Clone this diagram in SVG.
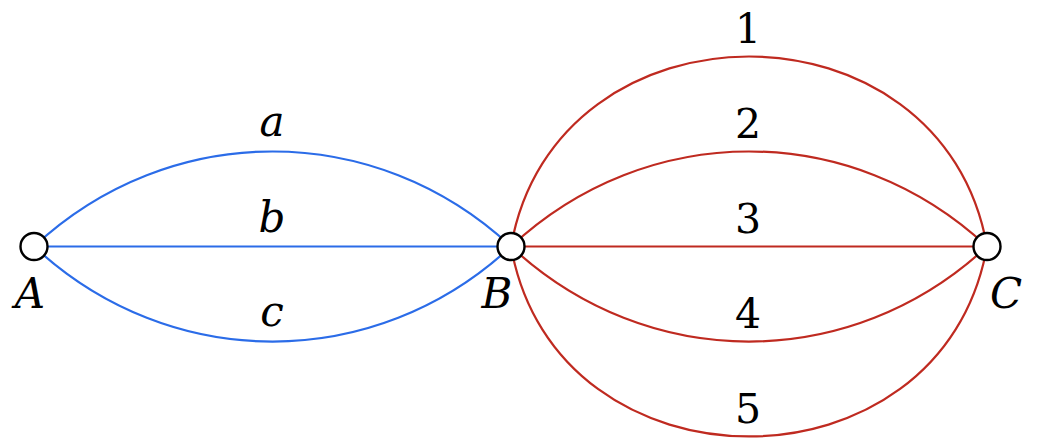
<svg xmlns="http://www.w3.org/2000/svg" width="1054" height="446" viewBox="0 0 1054 446">
<style>
.e{fill:none;stroke-width:2.2}
.blue{stroke:#2B6CE8}
.red{stroke:#BF2A20}
.node{fill:#fff;stroke:#000;stroke-width:2.4}
text{font-family:'DejaVu Serif','Liberation Serif',serif;fill:#000;text-anchor:middle}
.lbl{font-style:italic;font-size:42px}
.num{font-size:41px}
</style>
<rect width="1054" height="446" fill="#fff"/>
<g id="connectors">
<path class="e blue" d="M34,246.5 C169.9,119.8 375.1,119.8 511,246.5"/>
<path class="e blue" d="M34,246.5 L511,246.5"/>
<path class="e blue" d="M34,246.5 C169.9,373.2 375.1,373.2 511,246.5"/>
<path class="e red" d="M511,246.5 C555.7,-6.8 942.3,-6.8 987,246.5"/>
<path class="e red" d="M511,246.5 C646.9,119.8 851.1,119.8 987,246.5"/>
<path class="e red" d="M511,246.5 L987,246.5"/>
<path class="e red" d="M511,246.5 C646.9,373.2 851.1,373.2 987,246.5"/>
<path class="e red" d="M511,246.5 C555.7,499.8 942.3,499.8 987,246.5"/>
<text class="lbl" x="272" y="136">a</text>
<text class="lbl" x="272" y="232">b</text>
<text class="lbl" x="272" y="326">c</text>
<text class="num" x="748" y="43">1</text>
<text class="num" x="748" y="138">2</text>
<text class="num" x="748" y="233">3</text>
<text class="num" x="748" y="328">4</text>
<text class="num" x="748" y="423">5</text>
</g>
<g id="A"><circle class="node" cx="34" cy="246.5" r="13.5"/><text class="lbl" x="30" y="308">A</text></g>
<g id="B"><circle class="node" cx="511" cy="246.5" r="13.5"/><text class="lbl" x="497" y="308">B</text></g>
<g id="C"><circle class="node" cx="987" cy="246.5" r="13.5"/><text class="lbl" x="1006" y="308">C</text></g>
</svg>
